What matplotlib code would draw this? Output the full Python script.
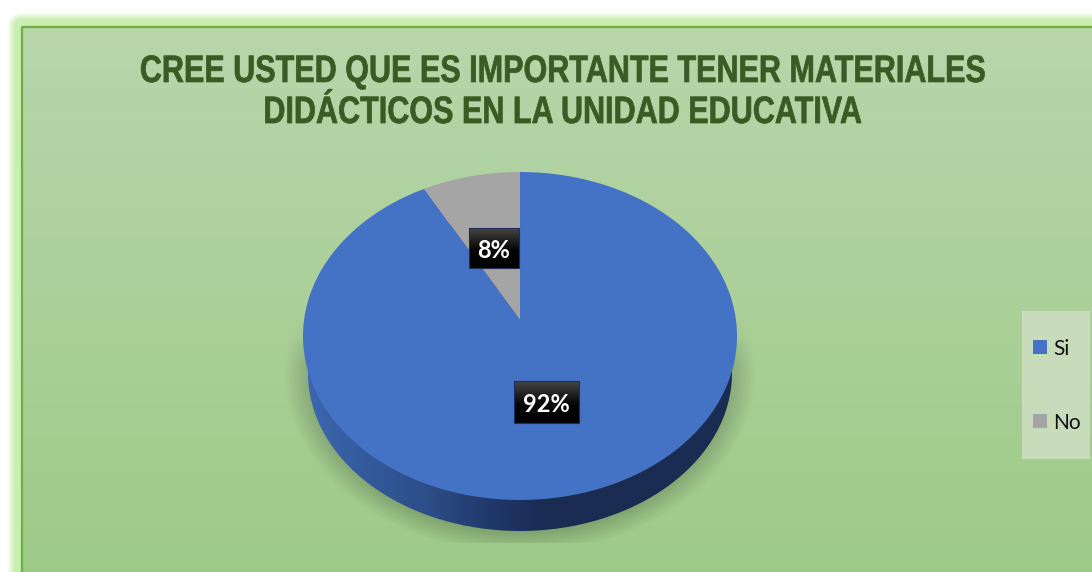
import numpy as np
import matplotlib
matplotlib.use("Agg")
import matplotlib.pyplot as plt
import matplotlib.patheffects as pe
from matplotlib.colors import LinearSegmentedColormap, to_rgb
from matplotlib.patches import Ellipse, Polygon, Rectangle
from matplotlib.transforms import Affine2D

title = "CREE USTED QUE ES IMPORTANTE TENER MATERIALES\nDIDÁCTICOS EN LA UNIDAD EDUCATIVA"
categories = ["Si", "No"]
values = [92, 8]
slice_colors = ["#4472C4", "#A5A5A5"]

W, H = 1092, 572


class Narrow(pe.AbstractPathEffect):
    # squeeze the title sideways, no narrow font is installed
    def __init__(self, sx, cx, stroke):
        super().__init__()
        self.sx = sx
        self.cx = cx
        self.stroke = stroke

    def draw_path(self, renderer, gc, tpath, affine, rgbFace=None):
        squeeze = Affine2D().translate(-self.cx, 0).scale(self.sx, 1).translate(self.cx, 0)
        gc0 = renderer.new_gc()
        gc0.copy_properties(gc)
        gc0.set_linewidth(self.stroke)
        gc0.set_foreground(rgbFace)
        renderer.draw_path(gc0, tpath, affine + squeeze, rgbFace)
        gc0.restore()


fig = plt.figure(figsize=(W / 100, H / 100), dpi=100)
ax = fig.add_axes([0, 0, 1, 1])
ax.axis("off")

# background: white page, green glow, gradient panel
X, Y = np.meshgrid(np.arange(W) + 0.5, np.arange(H) + 0.5)
left, top = 22, 27
dist = np.hypot(np.clip(left - X, 0, None), np.clip(top - Y, 0, None))
g = np.clip((16 - dist) / 10, 0, 1)
glow = (g * g * (3 - 2 * g))[..., None]
bg = 1 - glow * (1 - np.array(to_rgb("#C8EEB0")))
t = ((Y - top) / (H - top))[..., None]
panel = (1 - t) * np.array(to_rgb("#B8D6AB")) + t * np.array(to_rgb("#9ECA88"))
inside = ((X >= left) & (Y >= top))[..., None]
bg = np.where(inside, panel, bg)
ax.imshow(bg, extent=(0, W, H, 0), aspect="auto", zorder=0)
ax.plot([left, left, W], [H, top, top], color="#70AD47", lw=1.6, zorder=1)

# soft shadow under the pie
cx, cy, rx, ry = 520, 336, 217, 164
r = np.hypot((X - cx) / 236, (Y - 373) / 180)
alpha = 0.2 * np.clip((1 - r) / 0.12, 0, 1) * np.clip((Y - 318) / 45, 0, 1) * (Y < 543)
shadow = np.zeros((H, W, 4))
shadow[..., 3] = alpha
ax.imshow(shadow, extent=(0, W, H, 0), aspect="auto", zorder=2)

# side wall of the pie
wall_cmap = LinearSegmentedColormap.from_list(
    "wall", [(0, "#3C66AE"), (0.28, "#2C4E88"), (0.45, "#1F3666"), (0.55, "#1A2C52"), (1, "#1A2C52")])
wall = ax.imshow(np.linspace(0, 1, 256)[None, :], extent=(308, 732, 531, 200), aspect="auto",
                 cmap=wall_cmap, zorder=3)
wall.set_clip_path(Ellipse((520, 373), 424, 316, transform=ax.transData))

# top face: pie wedges seen in perspective
pie_ax = fig.add_axes([(cx - rx) / W, 1 - (cy + ry) / H, 2 * rx / W, 2 * ry / H], zorder=2)
wedges, _ = pie_ax.pie(values, colors=slice_colors, startangle=90, counterclock=False)
pie_ax.set_aspect("auto")
pie_ax.set_xlim(-1, 1)
pie_ax.set_ylim(-1, 1)
pie_ax.axis("off")

tilt = 0.0976
for w in wedges:
    ang = np.radians(np.linspace(w.theta1, w.theta2, 400))
    wx = np.r_[0, np.cos(ang)]
    wy = np.r_[0, np.sin(ang)]
    w.set_visible(False)
    den = 1 + tilt * wy
    px = wx * np.sqrt(1 - tilt ** 2) / den
    py = (wy + tilt) / den
    pie_ax.add_patch(Polygon(np.column_stack([px, py]), closed=True, fc=w.get_facecolor(),
                             ec="none", clip_on=False))

# data labels
label_ax = fig.add_axes([0, 0, 1, 1], zorder=3)
label_ax.axis("off")
box_cmap = LinearSegmentedColormap.from_list("box", [(0, "#454545"), (0.55, "#050505"), (1, "#000000")])
label_boxes = [(514, 579, 381, 423), (469, 519, 228, 268)]
for val, (x0, x1, y0, y1) in zip(values, label_boxes):
    label_ax.imshow(np.linspace(0, 1, 64)[:, None], extent=(x0, x1, y1, y0), aspect="auto", cmap=box_cmap)
    label_ax.add_patch(Rectangle((x0, y0), x1 - x0, y1 - y0, fc="none", ec="#1F2F55", lw=0.8))
    label_ax.text((x0 + x1) / 2, (y0 + y1) / 2 + 2.5, f"{val}%", color="white", fontsize=17, weight="bold",
                  family="Lato", ha="center", va="center")

# legend
label_ax.add_patch(Rectangle((1022, 311), 68, 148, fc="#C8DCBC", ec="none"))
for name, color, y in zip(categories, slice_colors, [347, 421]):
    label_ax.add_patch(Rectangle((1033, y - 7), 14, 14, fc=color, ec="none"))
    label_ax.text(1053, y + 2, name, fontsize=15, family="Lato", color="#111111", va="center", ha="left")

label_ax.text(562.5, 92.5, title, fontsize=27.5, weight="bold", color="#3B5B24", ha="center", va="center",
              family="Liberation Sans", linespacing=1.18, path_effects=[Narrow(0.80, 562.5, 0.5)])

for a in (ax, label_ax):
    a.set_xlim(0, W)
    a.set_ylim(H, 0)

fig.savefig("out.png", dpi=100)
